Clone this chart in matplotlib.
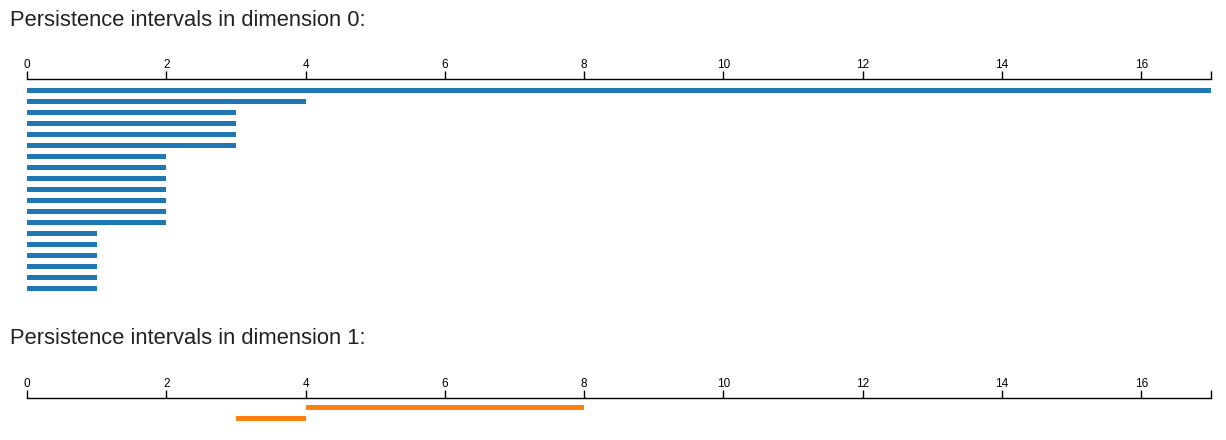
import matplotlib.pyplot as plt

plt.rcParams['font.family'] = ['Liberation Sans', 'DejaVu Sans']

# persistence intervals (birth, death)
dim0_birth = [0] * 19
dim0_death = [17, 4, 3, 3, 3, 3, 2, 2, 2, 2, 2, 2, 2, 1, 1, 1, 1, 1, 1]
dim1_birth = [4, 3]
dim1_death = [8, 4]

x_max = 17
ticks = [0, 2, 4, 6, 8, 10, 12, 14, 16]

W, H = 1226, 440
fig = plt.figure(figsize=(W / 100, H / 100), dpi=100)


def px_axes(left, top, right, bottom):
    return fig.add_axes([left / W, 1 - bottom / H, (right - left) / W, (bottom - top) / H])


def setup_axis(ax):
    ax.set_xlim(0, x_max)
    for s in ['bottom', 'left', 'right']:
        ax.spines[s].set_visible(False)
    ax.spines['top'].set_color('black')
    ax.spines['top'].set_linewidth(1)
    ax.xaxis.tick_top()
    ax.set_xticks(ticks)
    ax.set_xticklabels([str(t) for t in ticks])
    ax.set_xticks([x_max], minor=True)
    ax.tick_params(axis='x', which='both', direction='out', length=6, width=1,
                   color='black', labelsize=8.5, pad=-0.5)
    ax.set_yticks([])


row = 11  # pixels per interval row

# dimension 0
ax0 = px_axes(27, 79, 1211, 295)
rows0 = list(range(len(dim0_death)))
ax0.barh(rows0, [d - b for b, d in zip(dim0_birth, dim0_death)], left=dim0_birth,
         height=5 / row, color='#1f77b4')
ax0.set_ylim((295 - 91) / row, -12 / row)
setup_axis(ax0)

# dimension 1
ax1 = px_axes(27, 398, 1211, 432)
rows1 = list(range(len(dim1_death)))
ax1.barh(rows1, [d - b for b, d in zip(dim1_birth, dim1_death)], left=dim1_birth,
         height=5 / row, color='#ff7f0e')
ax1.set_ylim((432 - 407) / row, -9 / row)
setup_axis(ax1)

fig.text(10 / W, 1 - 20 / H, 'Persistence intervals in dimension 0:', fontsize=15.8,
         color='#222222', va='center', ha='left')
fig.text(10 / W, 1 - 338 / H, 'Persistence intervals in dimension 1:', fontsize=15.8,
         color='#222222', va='center', ha='left')

fig.savefig('out.png', dpi=100)
